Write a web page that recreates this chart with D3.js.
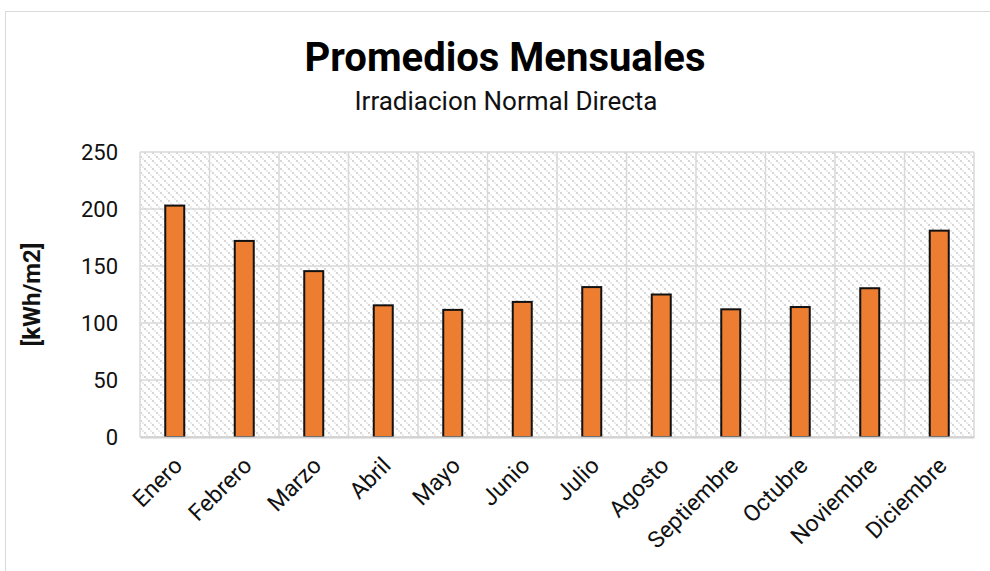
<!DOCTYPE html>
<html>
<head>
<meta charset="utf-8">
<script src="https://cdn.jsdelivr.net/npm/d3@7"></script>
<style>
  body { margin: 0; background: #fff; }
  svg { display: block; font-family: Roboto, "Liberation Sans", sans-serif; }
</style>
</head>
<body>
<div id="chart"></div>
<script>
// datos mensuales
var meses = ["Enero", "Febrero", "Marzo", "Abril", "Mayo", "Junio", "Julio", "Agosto", "Septiembre", "Octubre", "Noviembre", "Diciembre"];
var valores = [203, 172, 145.5, 115.5, 111.5, 118.5, 131.5, 125, 112, 114, 130.5, 181];
var ticksY = [0, 50, 100, 150, 200, 250];

var width = 990, height = 571;
var margin = {top: 152, right: 16, bottom: 134, left: 140};

var svg = d3.select("#chart").append("svg")
  .attr("width", width)
  .attr("height", height);

// rayado del fondo
var defs = svg.append("defs");
var pat = defs.append("pattern")
  .attr("id", "rayas")
  .attr("patternUnits", "userSpaceOnUse")
  .attr("width", 8).attr("height", 8);
pat.append("rect").attr("width", 8).attr("height", 8).attr("fill", "#fff");
[[0, 0], [4, 4]].forEach(function(p) {
  pat.append("rect")
    .attr("x", p[0]).attr("y", p[1])
    .attr("width", 2).attr("height", 2)
    .attr("fill", "#d6d6d6");
});
[[2, 2], [6, 6]].forEach(function(p) {
  pat.append("rect")
    .attr("x", p[0]).attr("y", p[1])
    .attr("width", 2).attr("height", 2)
    .attr("fill", "#ececec");
});

// borde del grafico
svg.append("rect")
  .attr("x", 5.5).attr("y", 11.5)
  .attr("width", 1000).attr("height", 600)
  .attr("fill", "none")
  .attr("stroke", "#d9d9d9");

var x = d3.scaleBand()
  .domain(meses)
  .range([margin.left, width - margin.right])
  .paddingInner(0).paddingOuter(0);

var y = d3.scaleLinear()
  .domain([0, 250])
  .range([height - margin.bottom, margin.top]);

svg.append("rect")
  .attr("x", margin.left).attr("y", margin.top)
  .attr("width", width - margin.right - margin.left)
  .attr("height", height - margin.bottom - margin.top)
  .attr("fill", "url(#rayas)");

// lineas de cuadricula
svg.append("g")
  .selectAll("line.h")
  .data(ticksY)
  .join("line")
  .attr("x1", margin.left).attr("x2", width - margin.right)
  .attr("y1", d => y(d)).attr("y2", d => y(d))
  .attr("stroke", "#d9d9d9").attr("stroke-width", 1.5);

var bordes = meses.map(m => x(m)).concat([x(meses[meses.length - 1]) + x.bandwidth()]);
svg.append("g")
  .selectAll("line.v")
  .data(bordes)
  .join("line")
  .attr("x1", d => d).attr("x2", d => d)
  .attr("y1", margin.top).attr("y2", height - margin.bottom)
  .attr("stroke", "#d9d9d9").attr("stroke-width", 1.5);

// barras
var bw = 19;
svg.append("g")
  .selectAll("rect")
  .data(valores)
  .join("rect")
  .attr("x", (d, i) => x(meses[i]) + x.bandwidth() / 2 - bw / 2)
  .attr("y", d => y(d))
  .attr("width", bw)
  .attr("height", d => y(0) - y(d))
  .attr("fill", "#ED7D31")
  .attr("stroke", "#111")
  .attr("stroke-width", 2);

// eje y
var ejeY = svg.append("g")
  .attr("transform", "translate(" + (margin.left - 22) + ",0)")
  .call(d3.axisLeft(y).tickValues(ticksY).tickSize(0).tickPadding(0));
ejeY.select(".domain").remove();
ejeY.selectAll("text")
  .attr("font-size", 22)
  .attr("fill", "#111")
  .attr("font-family", "Roboto, sans-serif");

// eje x
var ejeX = svg.append("g")
  .attr("transform", "translate(0," + y(0) + ")")
  .call(d3.axisBottom(x).tickSize(0).tickPadding(0));
ejeX.select(".domain").attr("stroke", "#d0d0d0").attr("stroke-width", 2);
ejeX.selectAll("text")
  .attr("font-size", 23)
  .attr("fill", "#111")
  .attr("font-family", "Roboto, sans-serif")
  .attr("text-anchor", "end")
  .attr("dy", 0)
  .attr("transform", "translate(9,30) rotate(-45)");

// titulos
svg.append("text")
  .attr("x", 505).attr("y", 71)
  .attr("text-anchor", "middle")
  .attr("font-size", 40)
  .attr("font-weight", "bold")
  .attr("fill", "#000")
  .text("Promedios Mensuales");

svg.append("text")
  .attr("x", 506).attr("y", 110)
  .attr("text-anchor", "middle")
  .attr("font-size", 26)
  .attr("fill", "#111")
  .text("Irradiacion Normal Directa");

svg.append("text")
  .attr("transform", "translate(40," + y(125) + ") rotate(-90)")
  .attr("text-anchor", "middle")
  .attr("font-size", 24)
  .attr("font-weight", "bold")
  .attr("fill", "#111")
  .text("[kWh/m2]");
</script>
</body>
</html>
